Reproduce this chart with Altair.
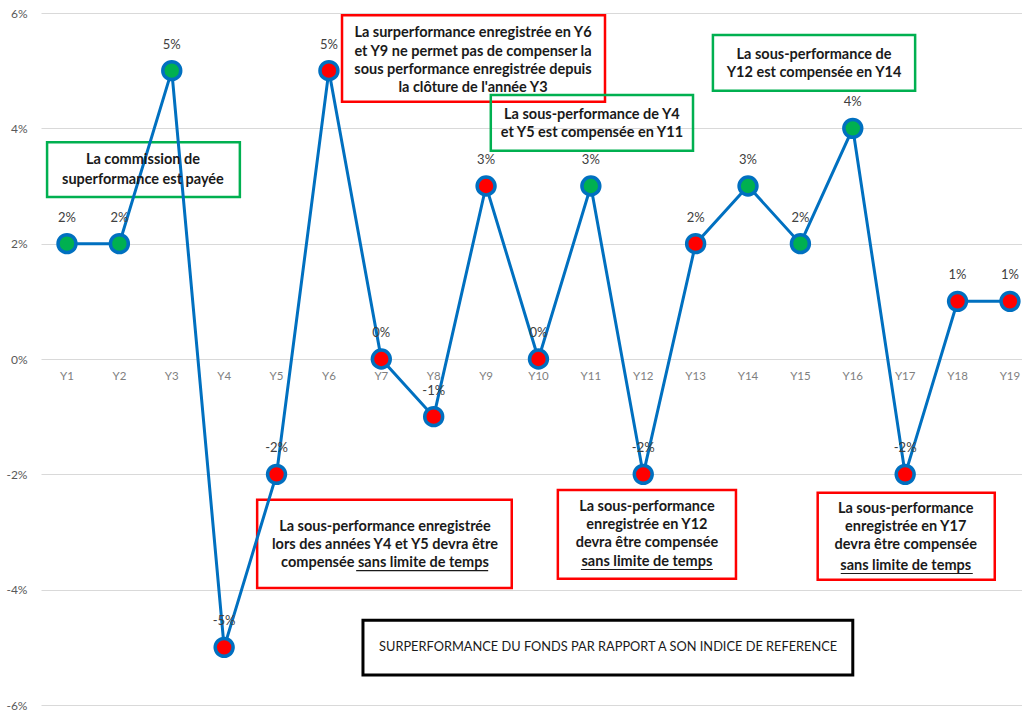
import altair as alt
import pandas as pd

years = ["Y1", "Y2", "Y3", "Y4", "Y5", "Y6", "Y7", "Y8", "Y9", "Y10",
         "Y11", "Y12", "Y13", "Y14", "Y15", "Y16", "Y17", "Y18", "Y19"]
values = [2, 2, 5, -5, -2, 5, 0, -1, 3, 0, 3, -2, 2, 3, 2, 4, -2, 1, 1]
status = ["g", "g", "g", "r", "r", "r", "r", "r", "r", "r",
          "g", "r", "r", "g", "g", "g", "r", "r", "r"]

# annotation boxes in data units (x = year index, y = %)
box_x1 = [0.62, 6.25, 9.09, 13.33, 4.63, 10.37, 15.33, 6.65]
box_x2 = [4.30, 11.27, 12.95, 17.19, 9.49, 13.77, 18.71, 16.00]
box_y1 = [3.76, 5.96, 4.58, 5.62, -2.44, -2.27, -2.32, -4.53]
box_y2 = [2.81, 4.46, 3.61, 4.65, -3.97, -3.81, -3.83, -5.48]
box_col = ["#00B050", "#FF0000", "#00B050", "#00B050", "#FF0000", "#FF0000", "#FF0000", "#000000"]
box_w = [2.5, 2.5, 2.5, 2.5, 2.5, 2.5, 2.5, 3]

note_text = [
    "La commission de", "superformance est payée",
    "La surperformance enregistrée en Y6", "et Y9 ne permet pas de compenser la",
    "sous performance enregistrée depuis", "la clôture de l'année Y3",
    "La sous-performance de Y4", "et Y5 est compensée en Y11",
    "La sous-performance de", "Y12 est compensée en Y14",
    "La sous-performance enregistrée", "lors des années Y4 et Y5 devra être",
    "compensée sans limite de temps",
    "La sous-performance", "enregistrée en Y12", "devra être compensée", "sans limite de temps",
    "La sous-performance", "enregistrée en Y17", "devra être compensée", "sans limite de temps",
]
note_x = [2.45, 2.45,
          8.75, 8.75, 8.75, 8.75,
          11.02, 11.02,
          15.26, 15.26,
          7.07, 7.07, 7.07,
          12.07, 12.07, 12.07, 12.07,
          17.01, 17.01, 17.01, 17.01]
note_y = [3.45, 3.10,
          5.65, 5.32, 5.01, 4.70,
          4.23, 3.92,
          5.27, 4.96,
          -2.91, -3.23, -3.54,
          -2.57, -2.88, -3.19, -3.52,
          -2.60, -2.91, -3.23, -3.59]

title_text = ["SURPERFORMANCE DU FONDS PAR RAPPORT A SON INDICE DE REFERENCE"]
title_x = [11.33]
title_y = [-4.99]

ul_x1 = [6.52, 10.81, 15.77]
ul_x2 = [9.04, 13.33, 18.29]
ul_y = [-3.67, -3.65, -3.72]

FONT = "Lato"
BLUE = "#0070C0"

df = pd.DataFrame({"year": years, "idx": list(range(1, len(years) + 1)),
                   "value": values, "status": status})
df["label"] = [f"{v}%" for v in values]
df["fill"] = ["#00B050" if s == "g" else "#FF0000" for s in status]
df["zero"] = 0

boxes = pd.DataFrame({"x1": box_x1, "x2": box_x2, "y1": box_y1, "y2": box_y2,
                      "col": box_col, "w": box_w})
notes = pd.DataFrame({"x": note_x, "y": note_y, "t": note_text})
titles = pd.DataFrame({"x": title_x, "y": title_y, "t": title_text})
uls = pd.DataFrame({"x1": ul_x1, "x2": ul_x2, "y": ul_y})

xs = alt.Scale(domain=[0.504, 19.23], nice=False, zero=False)
ys = alt.Scale(domain=[-6, 6], nice=False, zero=False)

base = alt.Chart(df)

axis_layer = base.mark_point(opacity=0).encode(
    x=alt.X("idx:Q", scale=xs, axis=None),
    y=alt.Y("value:Q", scale=ys, axis=alt.Axis(
        values=[-6, -4, -2, 0, 2, 4, 6], labelExpr="datum.value + '%'", title=None,
        domain=False, ticks=False, grid=True, gridColor="#D9D9D9", gridWidth=1,
        labelColor="#595959", labelFont=FONT, labelFontSize=12, labelPadding=14)),
)

box_layer = alt.Chart(boxes).mark_rect(fill=None, filled=False).encode(
    x=alt.X("x1:Q", scale=xs), x2="x2:Q",
    y=alt.Y("y1:Q", scale=ys), y2="y2:Q",
    stroke=alt.Color("col:N", scale=None),
    strokeWidth=alt.StrokeWidth("w:Q", scale=None),
)

xlab = base.mark_text(dy=18, fontSize=11.5, color="#7F7F7F", font=FONT).encode(
    x=alt.X("idx:Q", scale=xs), y=alt.Y("zero:Q", scale=ys), text="year:N")

line = base.mark_line(color=BLUE, strokeWidth=3).encode(
    x=alt.X("idx:Q", scale=xs), y=alt.Y("value:Q", scale=ys))

pts = base.mark_circle(size=320, opacity=1, stroke=BLUE, strokeWidth=3.5).encode(
    x=alt.X("idx:Q", scale=xs), y=alt.Y("value:Q", scale=ys),
    color=alt.Color("fill:N", scale=None))

vlab = base.mark_text(dy=-26, fontSize=13, color="#404040", font=FONT).encode(
    x=alt.X("idx:Q", scale=xs), y=alt.Y("value:Q", scale=ys), text="label:N")

note_layer = alt.Chart(notes).mark_text(fontSize=14.5, fontWeight="bold", color="#1a1a1a",
                                        font=FONT, baseline="middle").encode(
    x=alt.X("x:Q", scale=xs), y=alt.Y("y:Q", scale=ys), text="t:N")

title_layer = alt.Chart(titles).mark_text(fontSize=12.8, color="#1a1a1a", font=FONT,
                                          baseline="middle").encode(
    x=alt.X("x:Q", scale=xs), y=alt.Y("y:Q", scale=ys), text="t:N")

ul_layer = alt.Chart(uls).mark_rule(color="#1a1a1a", strokeWidth=1.2).encode(
    x=alt.X("x1:Q", scale=xs), x2="x2:Q", y=alt.Y("y:Q", scale=ys))

chart = alt.layer(axis_layer, box_layer, xlab, line, pts, vlab, note_layer,
                  title_layer, ul_layer).properties(
    width=981, height=692,
    autosize=alt.AutoSizeParams(type="none"),
    padding={"left": 41, "top": 13, "right": 0, "bottom": 8},
    background="white",
).configure_view(stroke=None)

chart.save("out.html", embed_options={"renderer": "svg", "actions": False})
